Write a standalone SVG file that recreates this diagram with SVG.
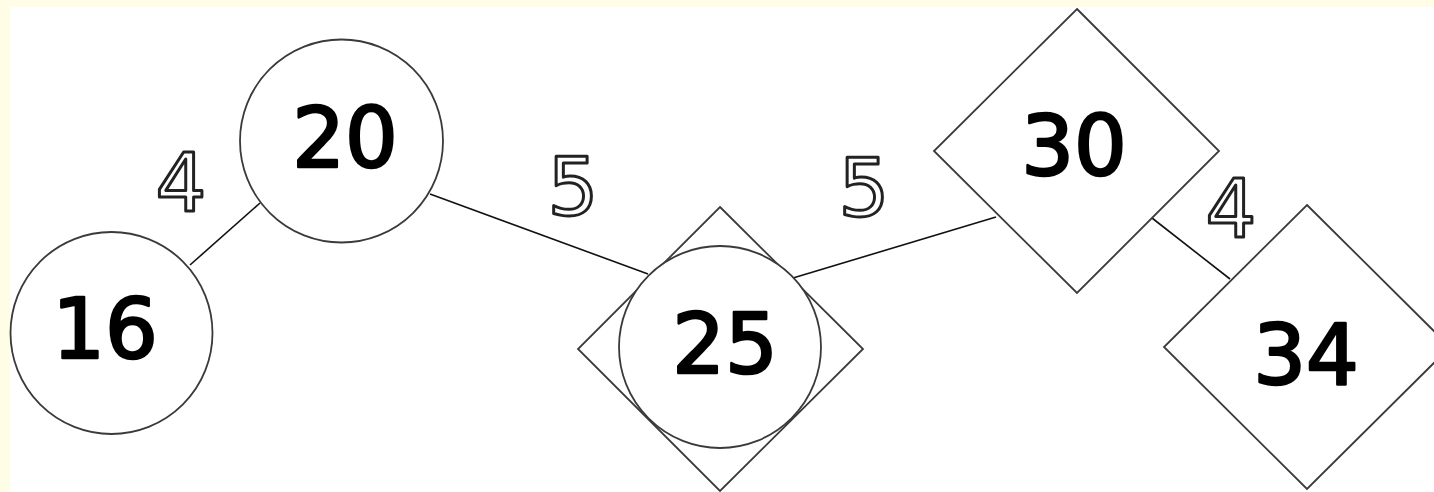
<svg xmlns="http://www.w3.org/2000/svg" width="1434" height="492" viewBox="0 0 1434 492">
<style>
.shape{fill:#fff;stroke:#3a3a3a;stroke-width:1.8}
.edge{stroke:#111;stroke-width:1.6;fill:none}
.nl{font-family:"DejaVu Sans",sans-serif;font-size:83px;fill:#000;stroke:#000;stroke-width:2.6;stroke-linejoin:round;text-anchor:middle}
.el{font-family:"DejaVu Sans",sans-serif;font-size:80px;fill:#fff;stroke:#222;stroke-width:3;stroke-linejoin:round;text-anchor:middle}
</style>
<rect x="0" y="0" width="1434" height="492" fill="#fffde6"/>
<rect x="10" y="7" width="1424" height="485" fill="#fff"/>
<g id="connectors">
<line class="edge" x1="190" y1="265" x2="260" y2="203"/>
<line class="edge" x1="430" y1="194" x2="648" y2="274"/>
<line class="edge" x1="793" y1="278" x2="996" y2="217"/>
<line class="edge" x1="1152" y1="218" x2="1230" y2="279"/>
</g>
<g id="edge-labels">
<text class="el" x="181" y="211">4</text>
<text class="el" x="573" y="215">5</text>
<text class="el" x="864" y="216">5</text>
<text class="el" x="1231" y="237">4</text>
</g>
<g id="node-16">
<circle class="shape" cx="111.5" cy="333" r="101"/>
<text class="nl" x="105" y="358">16</text>
</g>
<g id="node-20">
<circle class="shape" cx="341.5" cy="141" r="101.5"/>
<text class="nl" x="345" y="167">20</text>
</g>
<g id="node-25">
<polygon class="shape" points="720,207 863,349 720,491 578,349"/>
<circle class="shape" cx="720" cy="347" r="101"/>
<text class="nl" x="725" y="373">25</text>
</g>
<g id="node-30">
<polygon class="shape" points="1077,9 1219,151 1077,293 934,151"/>
<text class="nl" x="1074" y="175">30</text>
</g>
<g id="node-34">
<polygon class="shape" points="1307,205 1450,347 1307,489 1164,347"/>
<text class="nl" x="1306" y="384">34</text>
</g>
</svg>
